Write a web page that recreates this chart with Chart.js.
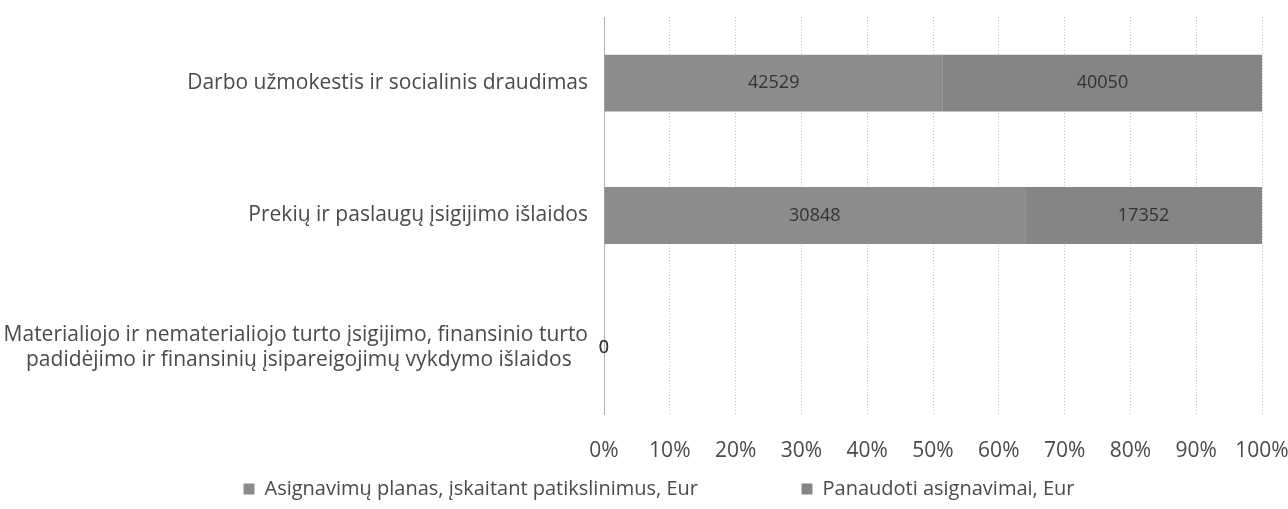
<!DOCTYPE html>
<html>
<head>
<meta charset="utf-8">
<script src="https://cdn.jsdelivr.net/npm/chart.js@4/dist/chart.umd.min.js"></script>
<style>
  html, body { margin: 0; padding: 0; background: #fff; }
  #wrap { width: 1288px; height: 509px; }
</style>
</head>
<body>
<div id="wrap"><canvas id="budgetChart"></canvas></div>
<script>
const categories = [
  "Darbo užmokestis ir socialinis draudimas",
  "Prekių ir paslaugų įsigijimo išlaidos",
  ["Materialiojo ir nematerialiojo turto įsigijimo, finansinio turto", "padidėjimo ir finansinių įsipareigojimų vykdymo išlaidos   "],
];
const seriesNames = [
  "Asignavimų planas, įskaitant patikslinimus, Eur",
  "Panaudoti asignavimai, Eur",
];
const planValues = [42529, 30848, 0];
const usedValues = [40050, 17352, 0];
const tickLabels = ["0%", "10%", "20%", "30%", "40%", "50%", "60%", "70%", "80%", "90%", "100%"];

const FONT = "'Open Sans', sans-serif";
const TEXT = "#4a4a4a";

// 100% stacked: turn raw sums into shares
const toShare = (vals, other) =>
  vals.map((v, i) => {
    const total = v + other[i];
    return total ? (v / total) * 100 : 0;
  });

const rawByDataset = [planValues, usedValues];

// draws the raw value in the middle of each segment
const segmentLabels = {
  id: "segmentLabels",
  afterDatasetsDraw(chart) {
    const ctx = chart.ctx;
    ctx.save();
    ctx.font = "18px " + FONT;
    ctx.fillStyle = "#333";
    ctx.textAlign = "center";
    ctx.textBaseline = "middle";
    chart.data.datasets.forEach((ds, di) => {
      chart.getDatasetMeta(di).data.forEach((bar, i) => {
        const { x, base, y } = bar.getProps(["x", "base", "y"], true);
        ctx.fillText(String(rawByDataset[di][i]), (x + base) / 2, y);
      });
    });
    ctx.restore();
  },
};

// legend in the source sits a bit right of centre
const nudgeLegend = {
  id: "nudgeLegend",
  afterLayout(chart) {
    const lg = chart.legend;
    if (!lg) return;
    lg.left += 28;
    lg.right += 28;
  },
};

const defaultLegendLabels = Chart.defaults.plugins.legend.labels.generateLabels;

new Chart(document.getElementById("budgetChart"), {
  type: "bar",
  data: {
    labels: categories,
    datasets: [
      {
        label: seriesNames[0],
        data: toShare(planValues, usedValues),
        backgroundColor: "#8c8c8c",
      },
      {
        label: seriesNames[1],
        data: toShare(usedValues, planValues),
        backgroundColor: "#858585",
      },
    ],
  },
  options: {
    indexAxis: "y",
    responsive: true,
    maintainAspectRatio: false,
    animation: false,
    layout: { padding: { top: 17, right: 26, bottom: 0, left: 0 } },
    datasets: { bar: { barPercentage: 0.43, categoryPercentage: 1 } },
    scales: {
      x: {
        stacked: true,
        min: 0,
        max: 100,
        afterFit(scale) {
          scale.height = 55;
          scale.paddingLeft = 0;
          scale.paddingRight = 0;
        },
        ticks: {
          stepSize: 10,
          padding: 24,
          color: TEXT,
          font: { family: FONT, size: 21 },
          callback: (v) => tickLabels[Math.round(v / 10)],
        },
        grid: { color: "#c4c4c4", tickLength: 0, lineWidth: 1 },
        border: { display: false, dash: [1, 2] },
      },
      y: {
        stacked: true,
        afterFit(scale) {
          scale.width = 604;
          scale.paddingTop = 0;
          scale.paddingBottom = 0;
        },
        ticks: {
          padding: 8,
          color: TEXT,
          font: { family: FONT, size: 21 },
        },
        grid: { display: false },
        border: { display: true, color: "#b0b0b0", dash: [1, 2] },
      },
    },
    plugins: {
      legend: {
        position: "bottom",
        maxHeight: 44,
        labels: {
          color: TEXT,
          font: { family: FONT, size: 20 },
          boxWidth: 11,
          boxHeight: 11,
          padding: 10,
          generateLabels(chart) {
            const items = defaultLegendLabels(chart);
            // wider gap between the two entries, as in the source
            items[0].text = items[0].text + "                  ";
            return items;
          },
        },
      },
      tooltip: { enabled: false },
    },
  },
  plugins: [segmentLabels, nudgeLegend],
});
</script>
</body>
</html>
